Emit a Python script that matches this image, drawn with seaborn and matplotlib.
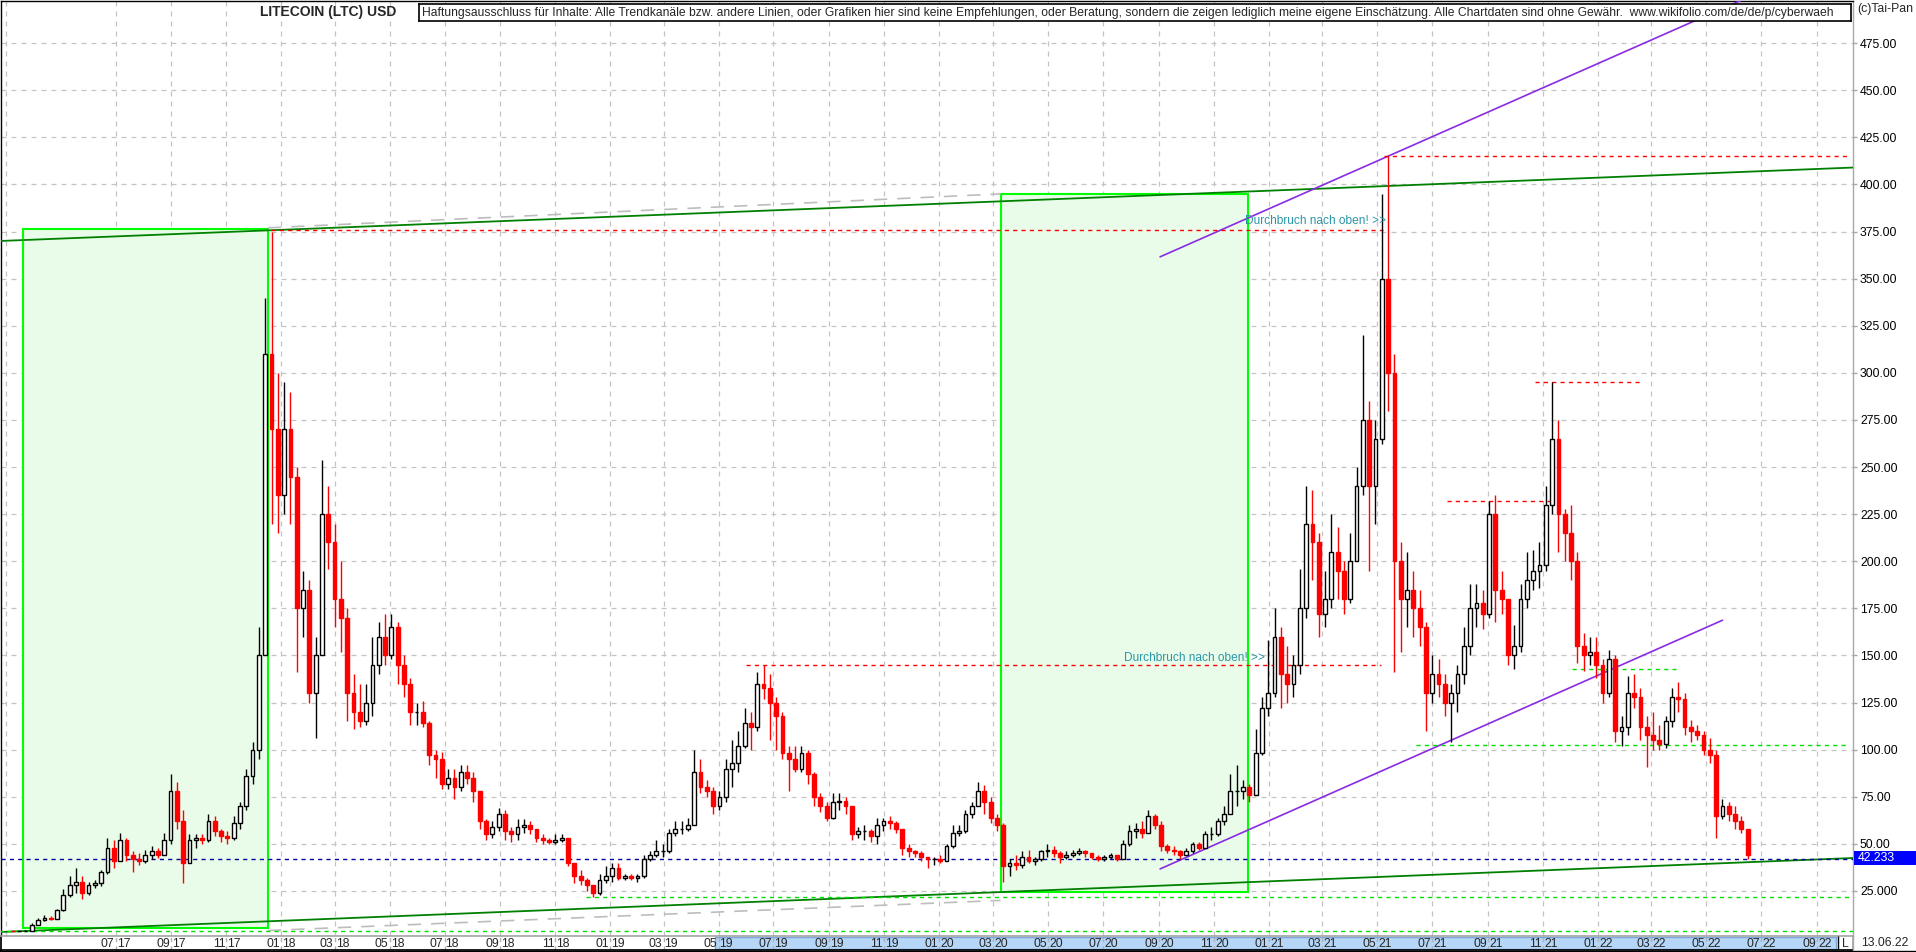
import numpy as np
import pandas as pd
import seaborn as sns
import matplotlib
matplotlib.use("Agg")
import matplotlib.pyplot as plt
from matplotlib.patches import Rectangle
from matplotlib.lines import Line2D

# weekly candles (week starts), LTC in USD, first week 2017-03-06
week_start = '2017-03-06'
first_open = 4.0
closes = [
    # 2017
    3.9, 3.9, 4.0, 7.0, 9.5, 10.5, 10.0, 15.0, 23, 28, 30, 24, 28, 29, 35, 48, 41, 52, 44, 42, 41, 44,
    46, 44, 52, 78, 62, 40, 52, 53, 52, 62, 57, 54, 53, 61, 70, 86, 100, 150, 310, 270, 235,
    # 2018
    270, 245, 175, 185, 130, 150, 225, 210, 180, 170, 130, 120, 115, 125, 145, 160, 150, 165, 145, 135,
    120, 120, 114, 97, 95, 82, 85, 80, 88, 85, 78, 62, 55, 59, 66, 57, 55, 59, 60, 58, 53, 52, 51, 52,
    53, 40, 33, 31, 28, 24, 31, 33, 37,
    # 2019
    32, 33, 32, 33, 42, 44, 46, 46, 56, 58, 58, 60, 88, 80, 78, 70, 75, 90, 93, 102, 114, 112, 135, 133,
    125, 118, 98, 95, 90, 98, 87, 75, 70, 64, 72, 73, 70, 55, 57, 57, 54, 60, 62, 61, 58, 48, 46, 45,
    43, 42, 42, 41,
    # 2020
    49, 56, 57, 66, 70, 78, 72, 64, 60, 38, 40, 39, 43, 41, 42, 46, 47, 45, 43, 44, 45, 46, 45, 43,
    42, 43, 44, 42, 50, 57, 58, 56, 65, 60, 49, 47, 46, 44, 46, 50, 48, 55, 55, 62, 66, 78, 78, 80,
    76, 98, 122, 130,
    # 2021
    160, 140, 135, 145, 175, 220, 210, 172, 180, 205, 195, 180, 200, 240, 275, 240, 265, 350, 300, 200,
    180, 185, 175, 165, 130, 140, 135, 125, 130, 140, 155, 175, 178, 172, 225, 185, 180, 150, 155, 180,
    190, 195, 198, 230, 265, 225, 215, 200, 155, 150, 152, 145,
    # 2022
    130, 148, 110, 112, 130, 128, 112, 108, 105, 103, 115, 128, 127, 112, 110, 108, 100, 97, 65, 70,
    66, 62, 58, 44,
]
highs = [
    4.1, 4.0, 4.2, 7.8, 10.5, 12.0, 11.5, 15.5, 26, 33, 37, 33, 29.5, 31, 36, 53, 52, 56, 53, 46, 45, 47,
    49, 48, 56, 87, 83, 68, 55, 55, 55, 66, 65, 58, 57, 65, 72, 90, 104, 165, 340, 375, 300,
    295, 290, 250, 195, 190, 160, 254, 240, 220, 200, 175, 140, 135, 135, 160, 168, 172, 172, 168, 150,
    138, 125, 126, 115, 100, 99, 90, 90, 92, 92, 88, 78, 63, 62, 69, 68, 59, 63, 63, 62, 58, 55, 53, 55,
    55, 53, 40, 36, 32, 28, 34, 38, 40,
    40, 34, 34, 34, 44, 46, 52, 50, 58, 62, 62, 64, 100, 95, 84, 80, 78, 95, 105, 110, 122, 120, 141, 145,
    140, 128, 120, 102, 102, 102, 100, 88, 77, 72, 77, 77, 75, 70, 59, 60, 58, 64, 64, 65, 62, 58, 50, 47,
    46, 43, 43, 44,
    50, 60, 60, 68, 72, 83, 81, 75, 66, 61, 42, 44, 46, 47, 43, 47, 50, 49, 46, 46, 47, 48, 47, 45,
    44, 44, 45, 44, 52, 60, 61, 62, 68, 66, 62, 50, 49, 47, 48, 51, 51, 57, 59, 64, 70, 87, 92, 84,
    82, 111, 128, 158,
    175, 165, 155, 150, 196, 240, 238, 215, 195, 225, 218, 200, 215, 250, 320, 285, 275, 395, 415, 310,
    210, 205, 195, 185, 168, 150, 148, 140, 135, 145, 165, 188, 188, 185, 232, 235, 195, 180, 166, 188,
    205, 206, 210, 240, 295, 275, 228, 230, 205, 162, 160, 160,
    148, 153, 150, 118, 139, 140, 133, 118, 120, 113, 118, 133, 136, 130, 116, 113, 110, 106, 100, 74,
    72, 70, 65, 58,
]
lows = [
    3.6, 3.7, 3.8, 3.9, 6.8, 9.0, 9.5, 10.0, 14.5, 22, 24, 21, 23, 26.5, 27.5, 34, 37, 41, 41, 35, 39, 40,
    42, 42.5, 44, 50, 58, 29, 40, 48, 50, 51, 54, 51, 50, 52, 58, 68, 82, 95, 150, 220, 215,
    225, 220, 141, 160, 125, 106, 150, 196, 165, 152, 115, 111, 112, 113, 118, 140, 145, 148, 135, 128,
    113, 113, 112, 92, 85, 79, 79, 74, 78, 82, 72, 58, 52, 53, 57, 52, 51, 52, 56, 55, 51, 50, 50, 50,
    51, 38, 29, 28, 25, 22, 23, 29, 30,
    31, 31, 31, 30, 32, 41, 43, 43, 45, 54, 55, 57, 60, 77, 75, 66, 68, 72, 80, 88, 101, 100, 110, 127,
    105, 100, 95, 78, 88, 88, 82, 70, 67, 62, 63, 68, 66, 52, 53, 52, 51, 50, 57, 58, 56, 44, 43, 43,
    41, 37, 39, 40,
    41, 48, 54, 56, 64, 70, 66, 61, 57, 30, 33, 36, 37, 40, 39, 41, 43, 43, 40, 42, 43, 44, 43, 42,
    41, 41, 42, 41, 42, 49, 53, 53, 56, 58, 46, 45, 44, 42, 44, 45, 47, 48, 52, 54, 60, 66, 70, 74,
    72, 76, 97, 118,
    128, 122, 125, 128, 140, 170, 190, 160, 165, 175, 180, 172, 178, 200, 235, 195, 220, 262, 280, 141,
    152, 165, 160, 155, 110, 125, 128, 118, 104, 120, 135, 150, 165, 164, 170, 168, 172, 145, 143, 152,
    175, 185, 186, 195, 225, 205, 200, 190, 146, 142, 145, 138,
    125, 128, 104, 102, 108, 122, 105, 91, 100, 100, 101, 112, 120, 108, 104, 105, 97, 93, 53, 63,
    62, 58, 56, 42,
]

last_price = 42.233
price_ticks = list(range(25, 476, 25))
price_labels = ['25.000'] + [f'{v:.2f}' for v in range(50, 476, 25)]

# trend channel (dark green) and helper lines
upper_channel = [('2017-02-22', 370.0), ('2022-10-11', 409.0)]
lower_channel = [('2017-02-22', 3.2), ('2022-10-11', 42.5)]
helper_top = [('2017-12-17', 377.0), ('2020-03-09', 395.0)]
helper_bottom = [('2017-12-17', 4.0), ('2020-03-09', 20.0)]
purple_upper = [('2020-09-02', 361.6), ('2022-10-11', 524.0)]
purple_lower = [('2020-09-02', 36.7), ('2022-05-19', 168.7)]

# horizontal marks: (from, to, level)
red_levels = [('2017-12-20', '2021-05-07', 376.0), ('2021-05-09', '2022-10-08', 415.0),
              ('2019-05-31', '2021-05-05', 145.0), ('2021-07-17', '2021-11-10', 232.0),
              ('2021-10-23', '2022-02-18', 295.0)]
green_levels = [('2021-06-13', '2022-10-06', 102.3), ('2021-12-03', '2022-03-29', 142.8),
                ('2018-12-05', '2022-10-11', 22.0), ('2017-02-22', '2022-10-11', 3.6)]

# shaded boxes: (from, to, low, high)
boxes = [('2017-03-20', '2017-12-17', 5.4, 376.6), ('2020-03-09', '2020-12-08', 24.5, 395.0)]

notes = [('2020-12-05', 380.6, 'Durchbruch nach oben! >>'),
         ('2020-07-24', 148.7, 'Durchbruch nach oben! >>')]

title = 'LITECOIN (LTC) USD'
# shown cut off at the right edge of its frame, as in the original
disclaimer = ('Haftungsausschluss für Inhalte: Alle Trendkanäle bzw. andere Linien, oder Grafiken hier sind '
              'keine Empfehlungen, oder Beratung, sondern die zeigen lediglich meine eigene Einschätzung. '
              'Alle Chartdaten sind ohne Gewähr.  www.wikifolio.com/de/de/p/cyberwaeh')

# ---------------------------------------------------------------
sns.set_theme(style='white')
plt.rcParams['font.family'] = ['Liberation Sans', 'DejaVu Sans']

W, H = 1916, 952
base = pd.Timestamp('2017-07-01')
px_per_day = 0.9012
x0_px = 115.6


def day(d):
    return (pd.Timestamp(d) - base).days


def px_day(px):
    return (px - x0_px) / px_per_day


def fx(px):
    return px / W


def fy(py):
    return 1 - py / H


fig = plt.figure(figsize=(W / 100, H / 100), dpi=100)
fig.patch.set_facecolor('white')
ax = fig.add_axes([fx(1), fy(936), fx(1853) - fx(1), fy(1) - fy(936)])
ax.set_xlim(px_day(1), px_day(1853))
ax.set_ylim(1.1, 497.4)

# grid
grid_dates = [pd.Timestamp('2017-03-01')] + list(pd.date_range('2017-07-01', '2022-09-01', freq='2MS'))
grid_x = [day(d) for d in grid_dates]
ax.set_xticks(grid_x)
ax.set_xticklabels([])
ax.tick_params(axis='x', length=0)
ax.yaxis.tick_right()
ax.set_yticks(price_ticks)
ax.set_yticklabels(price_labels)
ax.tick_params(axis='y', length=3, color='#A8A8A8', width=1, pad=2, labelsize=8.8, labelcolor='black')
ax.grid(True, color='#C4C4C4', linestyle=(0, (4, 4)), linewidth=0.9)
ax.set_axisbelow(True)
for s in ['left', 'top']:
    ax.spines[s].set_color('black')
for s in ['right', 'bottom']:
    ax.spines[s].set_color('#A8A8A8')
for s in ax.spines.values():
    s.set_linewidth(1)

# shaded boxes
for a, b, lo, hi in boxes:
    ax.add_patch(Rectangle((day(a), lo), day(b) - day(a), hi - lo, facecolor='#E9FCE9',
                           edgecolor='#00FF00', linewidth=1.5, zorder=1))

# channel lines
for pts, col, lw in [(upper_channel, '#008000', 1.3), (lower_channel, '#008000', 1.3),
                     (purple_upper, '#8A2BE2', 1.2), (purple_lower, '#8A2BE2', 1.2)]:
    sns.lineplot(x=[day(p[0]) for p in pts], y=[p[1] for p in pts], ax=ax, color=col,
                 linewidth=lw, zorder=5)
for pts in [helper_top, helper_bottom]:
    ax.plot([day(p[0]) for p in pts], [p[1] for p in pts], color='#BDBDBD',
            linestyle=(0, (8, 6)), linewidth=1.2, zorder=2)

for a, b, v in red_levels:
    ax.hlines(v, day(a), day(b), colors='#FF0000', linestyles=(0, (3, 3)), linewidth=1, zorder=5)
for a, b, v in green_levels:
    ax.hlines(v, day(a), day(b), colors='#00E000', linestyles=(0, (3, 3)), linewidth=1, zorder=5)
ax.axhline(last_price, color='#0000A0', linestyle=(0, (3, 3)), linewidth=1, zorder=5)

# candles
weeks = pd.date_range(week_start, periods=len(closes), freq='7D')
opens = [first_open] + closes[:-1]
df = pd.DataFrame({'week': weeks, 'open': opens, 'high': highs, 'low': lows, 'close': closes})
df['x'] = (df['week'] - base).dt.days + 3
df['high'] = df[['high', 'open', 'close']].max(axis=1)
df['low'] = df[['low', 'open', 'close']].min(axis=1)
up = df[df['close'] >= df['open']]
dn = df[df['close'] < df['open']]
ax.vlines(up['x'], up['low'], up['high'], color='black', linewidth=1, zorder=6)
ax.bar(up['x'], up['close'] - up['open'], bottom=up['open'], width=4.2, facecolor='white',
       edgecolor='black', linewidth=1, zorder=7)
ax.vlines(dn['x'], dn['low'], dn['high'], color='#FF0000', linewidth=1, zorder=6)
ax.bar(dn['x'], dn['close'] - dn['open'], bottom=dn['open'], width=4.2, facecolor='#FF0000',
       edgecolor='#FF0000', linewidth=1, zorder=7)

for d, v, t in notes:
    ax.text(day(d), v, t, color='#2A96A8', fontsize=8.6, ha='left', va='center', zorder=8)

# date bar
bar = fig.add_axes([fx(1), fy(950), fx(1853) - fx(1), fy(936) - fy(950)])
bar.set_xlim(ax.get_xlim())
bar.set_ylim(0, 1)
bar.set_xticks([])
bar.set_yticks([])
bar.spines['top'].set_color('#A8A8A8')
bar.spines['bottom'].set_color('black')
bar.spines['left'].set_color('black')
bar.spines['right'].set_color('#A8A8A8')
bar.add_patch(Rectangle((day('2019-04-27'), 0.06), day('2022-09-22') - day('2019-04-27'), 0.88,
                        facecolor='#B5D6F7', edgecolor='#7EA6D8', linewidth=1, zorder=1))
for d in grid_dates[1:]:
    x = day(d)
    bar.vlines(x, 0, 1, colors='#B0B0B0', linestyles=(0, (3, 3)), linewidth=1, zorder=2)
    bar.text(x - 1.2, 0.45, d.strftime('%m'), ha='right', va='center', fontsize=8.8, zorder=3)
    bar.text(x + 1.2, 0.45, d.strftime('%y'), ha='left', va='center', fontsize=8.8, zorder=3)
bar.vlines(px_day(1838), 0, 1, colors='black', linewidth=1, zorder=3)
bar.text(px_day(1845.5), 0.45, 'L', ha='center', va='center', fontsize=8.8, zorder=3)
fig.text(fx(1885), fy(943.5), '13.06.22', ha='center', va='center', fontsize=8.8)
fig.add_artist(Line2D([0, 1], [fy(950.5), fy(950.5)], color='black', linewidth=1))
fig.add_artist(Line2D([fx(1853), fx(1853)], [fy(936), fy(950)], color='#A8A8A8', linewidth=1))

# right axis extras
fig.text(fx(1857), fy(9), '(c)Tai-Pan', ha='left', va='center', fontsize=8.8)
fig.add_artist(Rectangle((fx(1854), fy(865)), fx(1916) - fx(1854), fy(851) - fy(865),
                         facecolor='#0000FF', edgecolor='none', transform=fig.transFigure))
fig.text(fx(1858), fy(858), f'{last_price:.3f}', color='white', ha='left', va='center', fontsize=8.8)

# title and disclaimer box
fig.text(fx(260), fy(12), title, ha='left', va='center', fontsize=10, fontweight='bold')
dbox = fig.add_axes([fx(419), fy(21), fx(1851) - fx(419), fy(4) - fy(21)], zorder=9)
dbox.set_xlim(0, 1)
dbox.set_ylim(0, 1)
dbox.set_xticks([])
dbox.set_yticks([])
dbox.set_facecolor('white')
for s in dbox.spines.values():
    s.set_color('black')
    s.set_linewidth(1.2)
dbox.text(3 / (1851 - 419), 0.47, disclaimer, ha='left', va='center', fontsize=8.75, clip_on=True)
ax.plot([day('2022-04-15')], [494], marker='v', color='#00C000', markersize=5, clip_on=False, zorder=10)

fig.savefig('out.png', dpi=100)
